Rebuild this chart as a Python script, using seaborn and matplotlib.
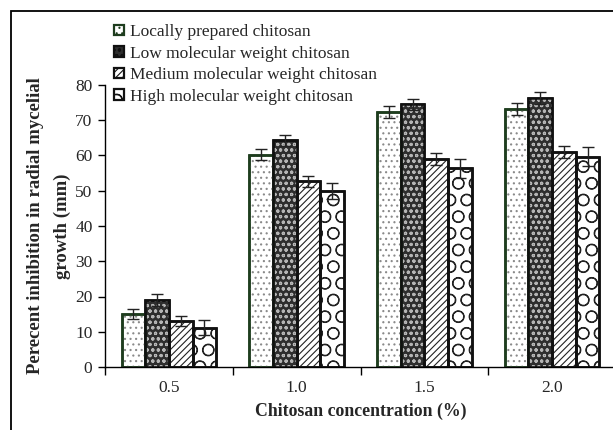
import numpy as np
import pandas as pd
import matplotlib
matplotlib.use("Agg")
import matplotlib.pyplot as plt
from matplotlib.patches import Patch, Rectangle
from matplotlib.ticker import FixedLocator, NullFormatter
import seaborn as sns

# Chitosan concentrations (%) and chitosan types
concentrations = ["0.5", "1.0", "1.5", "2.0"]
chitosan_types = [
    "Locally prepared chitosan",
    "Low molecular weight chitosan",
    "Medium molecular weight chitosan",
    "High molecular weight chitosan",
]

# Percent inhibition of radial mycelial growth (mean) per type
locally_prepared = [15.0, 60.2, 72.3, 73.2]
low_mw = [19.0, 64.3, 74.5, 76.2]
medium_mw = [13.1, 52.7, 59.0, 61.0]
high_mw = [11.2, 49.9, 56.4, 59.7]

# Standard errors
locally_prepared_err = [1.5, 1.6, 1.8, 1.6]
low_mw_err = [1.6, 1.5, 1.5, 1.7]
medium_mw_err = [1.5, 1.6, 1.7, 1.7]
high_mw_err = [2.2, 2.3, 2.7, 2.6]

means = [locally_prepared, low_mw, medium_mw, high_mw]
errors = [locally_prepared_err, low_mw_err, medium_mw_err, high_mw_err]

df = pd.DataFrame(
    [
        {"conc": c, "type": t, "value": v}
        for t, vals in zip(chitosan_types, means)
        for c, v in zip(concentrations, vals)
    ]
)

sns.set_style("white")
plt.rcParams["font.family"] = ["Liberation Serif", "DejaVu Serif"]
plt.rcParams["hatch.linewidth"] = 0.8

fig = plt.figure(figsize=(6.13, 4.30), dpi=100)
ax = fig.add_axes([105 / 613, 63 / 430, 511 / 613, 282 / 430])

sns.barplot(
    data=df, x="conc", y="value", hue="type",
    order=concentrations, hue_order=chitosan_types,
    width=0.74, errorbar=None, legend=False, ax=ax,
    palette=["white"] * 4,
)

# Bar styling per type: face, edge, hatch pattern, hatch colour
styles = [
    dict(face="white", edge="#1e3d1e", hatch="...", hcolor="#8a8a8a"),
    dict(face="#2e2e2e", edge="#111111", hatch="ooo", hcolor="#b5b5b5"),
    dict(face="white", edge="#111111", hatch="/////", hcolor="#222222"),
    dict(face="white", edge="#111111", hatch="O", hcolor="#222222"),
]

for container, st, errs in zip(ax.containers, styles, errors):
    xs, hs = [], []
    for bar in container:
        bar.set_facecolor(st["face"])
        bar.set_edgecolor(st["edge"])
        bar.set_linewidth(1.8)
        x0, w, h = bar.get_x(), bar.get_width(), bar.get_height()
        overlay = Rectangle((x0, 0), w, h, facecolor="none",
                            edgecolor=st["hcolor"], hatch=st["hatch"],
                            linewidth=0, zorder=bar.get_zorder() + 0.1)
        ax.add_patch(overlay)
        outline = Rectangle((x0, 0), w, h, facecolor="none",
                            edgecolor=st["edge"], linewidth=1.8,
                            zorder=bar.get_zorder() + 0.2)
        ax.add_patch(outline)
        xs.append(x0 + w / 2)
        hs.append(h)
    ax.errorbar(xs, hs, yerr=errs, fmt="none", ecolor="#222222",
                elinewidth=1.0, capsize=4, capthick=1.0, zorder=5)

ax.set_xlim(-0.5, 3.5)
ax.set_ylim(0, 80)
ax.set_yticks(np.arange(0, 81, 10))
ax.tick_params(axis="y", direction="out", length=5, width=1, color="black",
               labelsize=12.5, pad=4, left=True)
ax.tick_params(axis="x", which="major", length=0, labelsize=12.5, pad=9)
ax.xaxis.set_minor_locator(FixedLocator([-0.5, 0.5, 1.5, 2.5, 3.5]))
ax.xaxis.set_minor_formatter(NullFormatter())
ax.tick_params(axis="x", which="minor", direction="out", length=6, width=1,
               color="black", bottom=True)

for side in ["top", "right"]:
    ax.spines[side].set_visible(False)
for side in ["left", "bottom"]:
    ax.spines[side].set_color("black")
    ax.spines[side].set_linewidth(1.0)

ax.set_xlabel("Chitosan concentration (%)", fontsize=12.8, fontweight="bold",
              labelpad=5)
ax.set_ylabel("Perecent inhibition in radial mycelial\ngrowth (mm)",
              fontsize=13.5, fontweight="bold", labelpad=3, linespacing=1.75)

# Legend with small patterned squares
handles = [
    Patch(facecolor=st["face"], edgecolor=st["edge"], hatch=st["hatch"],
          linewidth=1.6)
    for st in styles
]
leg = fig.legend(handles, chitosan_types, loc="upper left",
                 bbox_to_anchor=(114 / 613, 1 - 24 / 430), frameon=False,
                 fontsize=12.5, handlelength=0.55, handleheight=0.55,
                 handletextpad=0.35, labelspacing=0.32, borderpad=0,
                 borderaxespad=0)

# Outer frame of the figure
fig.add_artist(Rectangle((11 / 613, -0.1), 1.2, 1.1 - 11 / 430 + 0.0,
                         transform=fig.transFigure, fill=False,
                         edgecolor="black", linewidth=1.3))

fig.savefig("out.png", dpi=100)
